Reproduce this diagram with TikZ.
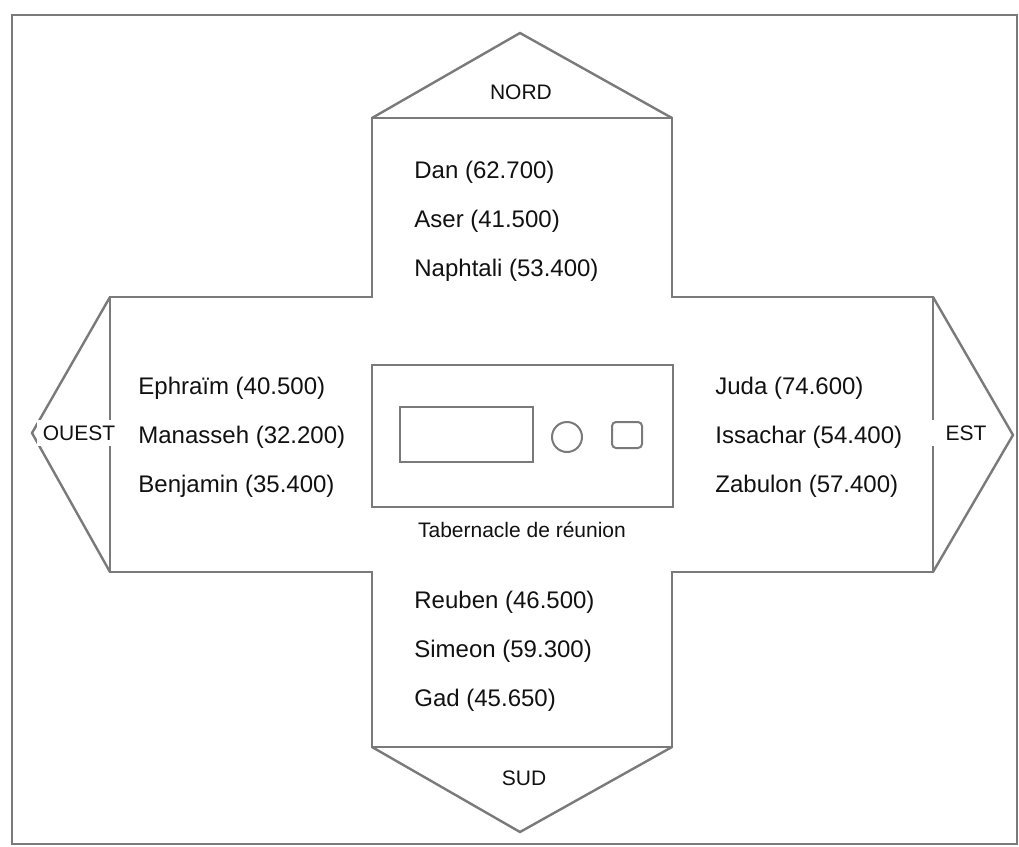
\documentclass[tikz,border=0pt]{standalone}
\usepackage{fontspec}
\setmainfont{Liberation Sans}
\usepackage{tikz}
\usetikzlibrary{positioning}
\definecolor{ink}{HTML}{111111}
\definecolor{edge}{HTML}{7A7A7A}
\tikzset{
  frame/.style={draw=edge,line width=1.3pt},
  camp/.style={draw=edge,line width=1.2pt,line join=miter},
  tribe/.style={anchor=west,inner sep=0pt,text=ink,font=\fontsize{12}{14}\selectfont},
  dirlbl/.style={fill=white,inner sep=3pt,text=ink,font=\fontsize{10.5}{12}\selectfont},
  tablbl/.style={inner sep=0pt,text=ink,font=\fontsize{10.5}{12}\selectfont},
}
\newcommand{\rowgap}{24.5pt}
\begin{document}
\begin{tikzpicture}[x=0.5pt,y=-0.5pt]
  \useasboundingbox (0,0) rectangle (1019,847);
  \draw[frame] (12,15) rectangle (1017,844);
  % camp outline (cross) and the four pointers
  \draw[camp] (372,118) -- (672,118) -- (672,297) -- (933,297) -- (933,572)
    -- (672,572) -- (672,747) -- (372,747) -- (372,572) -- (110,572)
    -- (110,297) -- (372,297) -- cycle;
  \draw[camp] (372,118) -- (520,33) -- (672,118);
  \draw[camp] (933,297) -- (1013,435) -- (933,572);
  \draw[camp] (672,747) -- (520,832) -- (372,747);
  \draw[camp] (110,572) -- (32,433) -- (110,297);
  % tabernacle
  \draw[camp,line width=1pt] (372,365) rectangle (673,507);
  \draw[camp,line width=1pt] (400,407) rectangle (533,462);
  \draw[camp,line width=1pt] (567,437) circle (15);
  \draw[camp,line width=1pt,rounded corners=2pt] (612,422) rectangle (642,448);
  \node[tablbl] (tab) at (522,530) {Tabernacle de réunion};
  % directions
  \node[dirlbl] (nord) at (521,92) {NORD};
  \node[dirlbl] (sud) at (524,778) {SUD};
  \node[dirlbl,minimum width=41pt] (ouest) at (79,433) {OUEST};
  \node[dirlbl,minimum width=36pt] (est) at (966,433) {EST};
  % north
  \node[tribe] (dan) at (414,172) {Dan (62.700)};
  \node[tribe,below=\rowgap of dan.west,anchor=west] (aser) {Aser (41.500)};
  \node[tribe,below=\rowgap of aser.west,anchor=west] (naph) {Naphtali (53.400)};
  % west
  \node[tribe] (ephr) at (138,388) {Ephraïm (40.500)};
  \node[tribe,below=\rowgap of ephr.west,anchor=west] (mana) {Manasseh (32.200)};
  \node[tribe,below=\rowgap of mana.west,anchor=west] (benj) {Benjamin (35.400)};
  % east
  \node[tribe] (juda) at (715,388) {Juda (74.600)};
  \node[tribe,below=\rowgap of juda.west,anchor=west] (issa) {Issachar (54.400)};
  \node[tribe,below=\rowgap of issa.west,anchor=west] (zabu) {Zabulon (57.400)};
  % south
  \node[tribe] (reub) at (414,602) {Reuben (46.500)};
  \node[tribe,below=\rowgap of reub.west,anchor=west] (sime) {Simeon (59.300)};
  \node[tribe,below=\rowgap of sime.west,anchor=west] (gad) {Gad (45.650)};
\end{tikzpicture}
\end{document}
